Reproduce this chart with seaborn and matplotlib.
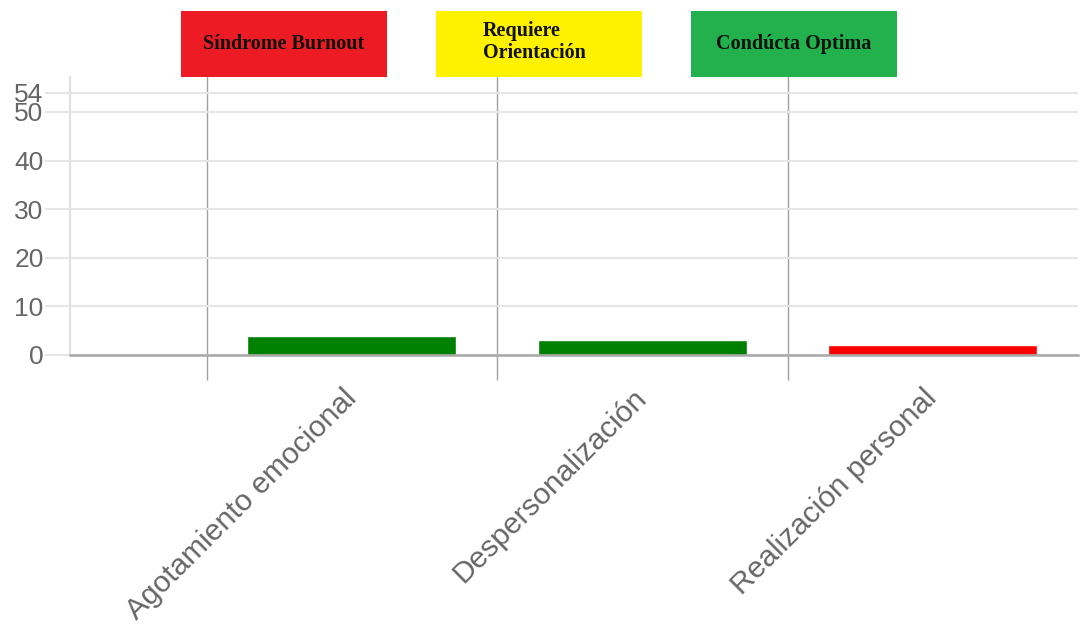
import numpy as np
import pandas as pd
import matplotlib
matplotlib.use("Agg")
import matplotlib.pyplot as plt
from matplotlib.patches import Rectangle
import seaborn as sns

# ---- data ----
categories = ["Agotamiento emocional", "Despersonalización", "Realización personal"]
values = [4, 3, 2]
bar_colors = ["#008000", "#008000", "#FF0000"]
y_ticks = [0, 10, 20, 30, 40, 50, 54]

legend_labels = ["Síndrome Burnout", "Requiere\nOrientación", "Condúcta Optima"]
legend_colors = ["#ED1C24", "#FFF200", "#22B14C"]

sns.set_theme(style="white")
plt.rcParams["font.family"] = ["Liberation Sans", "DejaVu Sans"]

W, H = 1081, 627
fig = plt.figure(figsize=(W / 100, H / 100), dpi=100)
ax = fig.add_axes([70 / W, 1 - 355 / H, (1078 - 70) / W, (355 - 77) / H])

df = pd.DataFrame({"cat": categories, "val": values})
sns.barplot(data=df, x="cat", y="val", hue="cat", palette=bar_colors,
            order=categories, hue_order=categories, width=0.72,
            saturation=1, legend=False, ax=ax)

ax.set_xlim(-0.97, len(categories) - 0.5)
ax.set_ylim(0, 57.2)
ax.set_xlabel("")
ax.set_ylabel("")

# y axis
ax.set_yticks(y_ticks)
ax.set_yticklabels([str(t) for t in y_ticks])
ax.yaxis.grid(True, color="#e6e6e6", lw=1.5)
ax.tick_params(axis="y", length=18, color="#e6e6e6", width=1.5, pad=1,
               labelsize=19, labelcolor="#666666", left=True)

# x axis: labels at centers, boundary lines as minor grid
ax.set_xticks(range(len(categories)))
ax.set_xticklabels(categories, rotation=45, ha="right", va="center",
                   rotation_mode="anchor", fontsize=21.5, color="#666666")
ax.tick_params(axis="x", which="major", length=0, pad=28)
ax.set_xticks(np.arange(len(categories)) - 0.5, minor=True)
ax.xaxis.grid(True, which="minor", color="#a0a0a0", lw=1)
ax.xaxis.grid(False, which="major")
ax.tick_params(axis="x", which="minor", length=18, color="#a0a0a0", width=1,
               bottom=True)
ax.set_axisbelow(True)

for s in ["top", "right"]:
    ax.spines[s].set_visible(False)
ax.spines["left"].set_color("#e0e0e0")
ax.spines["left"].set_linewidth(1.5)
ax.spines["bottom"].set_color("#a8a8a8")
ax.spines["bottom"].set_linewidth(1.8)
ax.spines["bottom"].set_zorder(5)

# legend boxes at top
box_x = [181, 436, 691]
for i, (lab, col) in enumerate(zip(legend_labels, legend_colors)):
    x0 = box_x[i]
    fig.patches.append(Rectangle((x0 / W, 1 - 77 / H), 206 / W, 66 / H,
                                 transform=fig.transFigure, facecolor=col,
                                 edgecolor="none", zorder=10))
    if "\n" in lab:
        fig.text((x0 + 47) / W, 1 - 42 / H, lab, ha="left", va="center",
                 fontsize=14.5, fontweight="bold", family="Liberation Serif",
                 color="#111111", linespacing=1.1, zorder=11)
    else:
        fig.text((x0 + 103) / W, 1 - 44 / H, lab, ha="center", va="center",
                 fontsize=14.5, fontweight="bold", family="Liberation Serif",
                 color="#111111", zorder=11)

fig.savefig("out.png", dpi=100)
